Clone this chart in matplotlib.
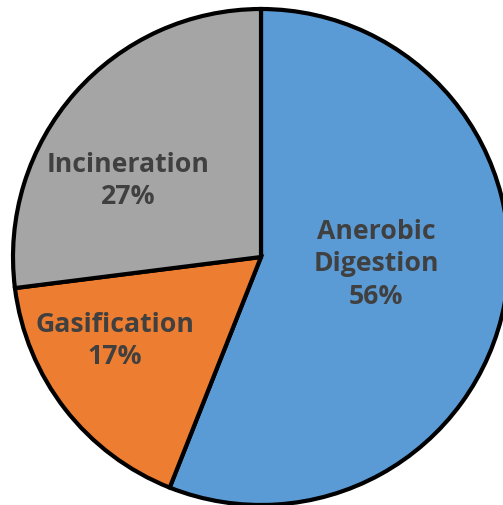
import matplotlib
matplotlib.use('Agg')
from matplotlib import pyplot as plt

categories = ['Anerobic\nDigestion', 'Gasification', 'Incineration']
shares = [56, 17, 27]
colors = ['#5B9BD5', '#ED7D31', '#A5A5A5']

# where Excel put the data labels (data units, pie radius = 1)
label_pos = [(0.465, -0.025), (-0.59, -0.335), (-0.535, 0.31)]

fig = plt.figure(figsize=(5.03, 5.06), dpi=100)
ax = fig.add_axes([13 / 503, 0 / 506, 496 / 503, 496 / 506])

ax.pie(shares, colors=colors, startangle=90, counterclock=False,
       radius=1, wedgeprops=dict(edgecolor='black', linewidth=3, clip_on=False))

for name, val, (x, y) in zip(categories, shares, label_pos):
    ax.text(x, y, f'{name}\n{val}%', ha='center', va='center',
            fontsize=19.2, fontweight='bold', family='Open Sans',
            color='#404040', linespacing=1.33)

ax.set_xlim(-1, 1)
ax.set_ylim(-1, 1)
ax.set_aspect('equal')
ax.axis('off')

fig.savefig('out.png', dpi=100)
